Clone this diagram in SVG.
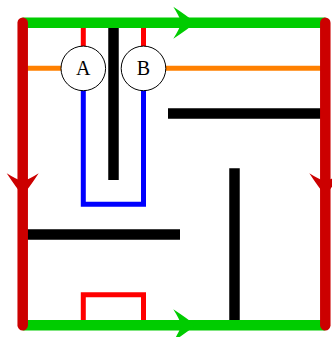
<svg xmlns="http://www.w3.org/2000/svg" xmlns:xlink="http://www.w3.org/1999/xlink" width="332" height="337" viewBox="0 0 332 337">
<style>
.thick{stroke-width:10.5;fill:none}
.thin{stroke-width:5;fill:none}
.wall{stroke:#000;stroke-width:10.5;fill:none}
.node circle{fill:#fff;stroke:#000;stroke-width:1}
.node text{font-family:"Liberation Serif","DejaVu Serif",serif;font-size:20px;text-anchor:middle;fill:#000}
</style>
<defs>
<path id="ah" d="M0.5,0 Q-8,-7 -21.7,-16 Q-16,-7 -13.5,0 Q-16,7 -21.7,16 Q-8,7 0.5,0 Z"/>
</defs>
<g id="connectors">
<!-- black walls -->
<line class="wall" x1="113.5" y1="22.7" x2="113.5" y2="180"/>
<line class="wall" x1="168" y1="113.5" x2="325.3" y2="113.5"/>
<line class="wall" x1="22.7" y1="234.5" x2="180" y2="234.5"/>
<line class="wall" x1="234.5" y1="168.3" x2="234.5" y2="325.3"/>
<!-- thin red, blue, orange -->
<line class="thin" stroke="#FF0000" x1="83.3" y1="22.7" x2="83.3" y2="50"/>
<line class="thin" stroke="#FF0000" x1="143.5" y1="22.7" x2="143.5" y2="50"/>
<path class="thin" stroke="#0000FF" d="M83.3,85 V204.3 H143.5 V85"/>
<path class="thin" stroke="#FF0000" d="M83.3,325.3 V294.7 H143.5 V325.3"/>
<line class="thin" stroke="#FF8000" x1="22.7" y1="68.3" x2="65" y2="68.3"/>
<line class="thin" stroke="#FF8000" x1="160" y1="68.3" x2="325.3" y2="68.3"/>
<!-- green -->
<line class="thick" stroke="#00CC00" x1="22.7" y1="22.7" x2="325.3" y2="22.7"/>
<line class="thick" stroke="#00CC00" x1="22.7" y1="325.3" x2="325.3" y2="325.3"/>
<use xlink:href="#ah" fill="#00CC00" transform="translate(195,22.7)"/>
<use xlink:href="#ah" fill="#00CC00" transform="translate(195,325.3)"/>
<!-- red -->
<line class="thick" stroke="#CC0000" stroke-linecap="round" x1="22.7" y1="22.7" x2="22.7" y2="325.3"/>
<line class="thick" stroke="#CC0000" stroke-linecap="round" x1="325.3" y1="22.7" x2="325.3" y2="325.3"/>
<use xlink:href="#ah" fill="#CC0000" transform="translate(22.7,195) rotate(90)"/>
<use xlink:href="#ah" fill="#CC0000" transform="translate(325.3,195) rotate(90)"/>
</g>
<g id="A" class="node">
<circle cx="83.3" cy="68.4" r="22.3"/>
<text x="83.3" y="75">A</text>
</g>
<g id="B" class="node">
<circle cx="143.5" cy="68.4" r="22.3"/>
<text x="143.5" y="75">B</text>
</g>
</svg>
